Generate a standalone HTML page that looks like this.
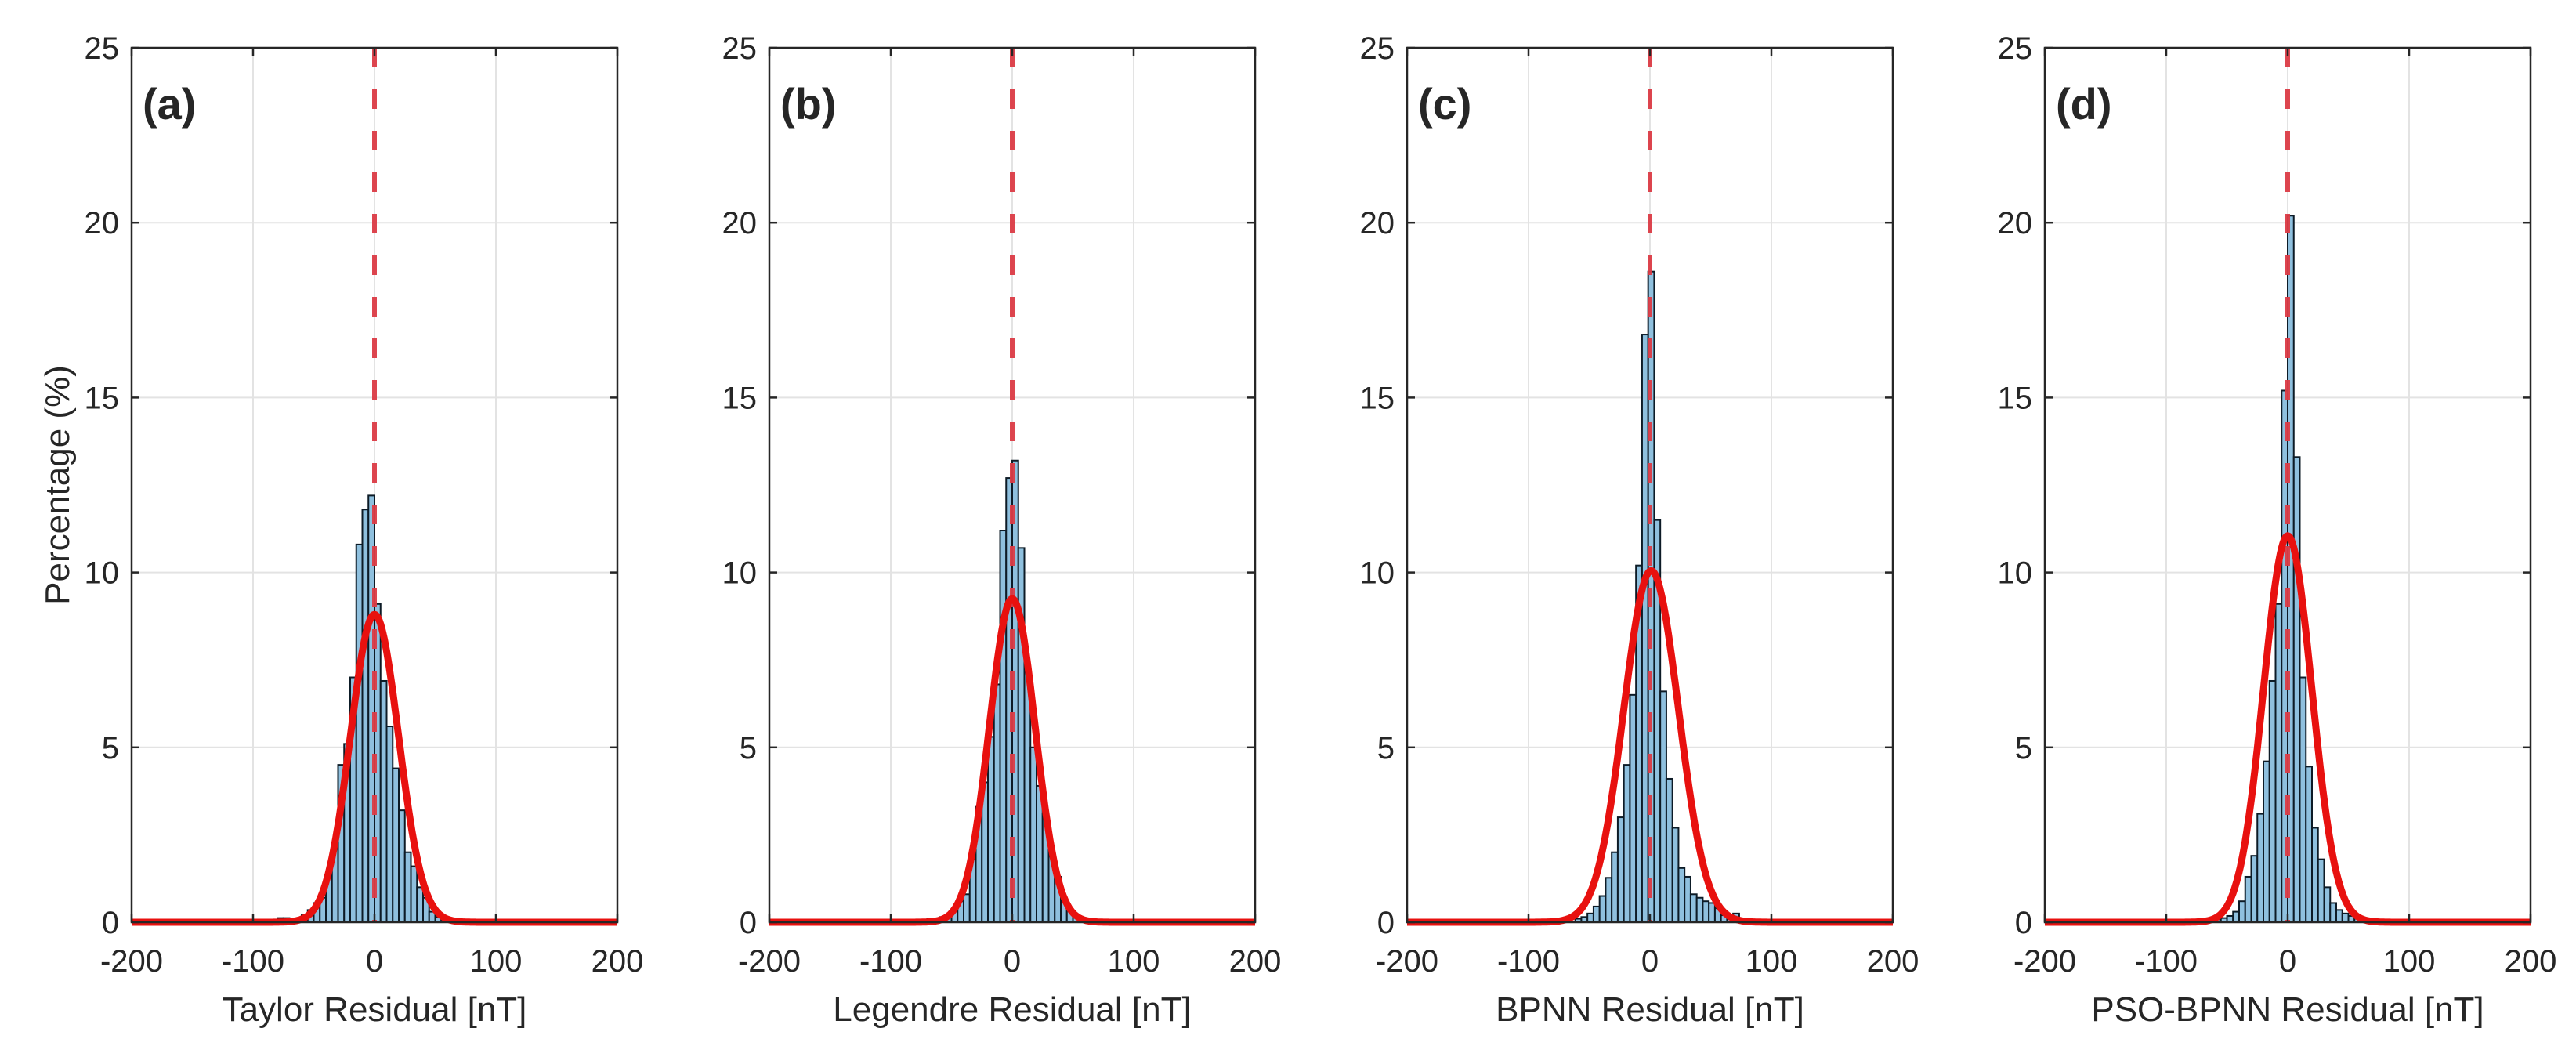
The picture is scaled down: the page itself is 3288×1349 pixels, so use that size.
<!DOCTYPE html>
<html><head><meta charset="utf-8">
<style>
html,body{margin:0;padding:0;background:#fff;}
svg{display:block;}
text{font-family:"Liberation Sans",Arial,sans-serif;fill:#262626;}
</style></head>
<body>
<svg id="fig" width="3288" height="1349" viewBox="0 0 3288 1349" xmlns="http://www.w3.org/2000/svg"></svg>
<script>
// ---- data ----
const panelLabels = ["(a)", "(b)", "(c)", "(d)"];
const xAxisTitles = ["Taylor Residual [nT]", "Legendre Residual [nT]", "BPNN Residual [nT]", "PSO-BPNN Residual [nT]"];
const xTicks = [-200, -100, 0, 100, 200];
const yTicks = [0, 5, 10, 15, 20, 25];
const binWidth = 5;
// bin left edges (nT) for each panel's bars
const binStartA = -80;
const valuesA = [0.12,0.12,0.1,0.1,0.2,0.35,0.55,0.7,1.3,2.2,4.5,5.1,7.0,10.8,11.8,12.2,9.1,6.9,5.6,4.4,3.2,2.0,1.6,1.0,0.7,0.3,0.15,0.05];
const binStartB = -80;
const valuesB = [0.05,0.05,0.1,0.1,0.15,0.2,0.35,0.6,0.8,1.8,3.3,4.0,5.3,6.8,11.2,12.7,13.2,10.7,7.2,5.0,3.9,3.1,1.9,1.3,0.7,0.35,0.2,0.1,0.05];
const binStartC = -61.5;
const valuesC = [0.1,0.15,0.25,0.45,0.75,1.27,2.0,3.0,4.5,6.5,10.2,16.8,18.6,11.5,6.6,4.1,2.7,1.55,1.3,0.8,0.7,0.6,0.55,0.4,0.2,0.2,0.25,0.05];
const binStartD = -60;
const valuesD = [0.08,0.12,0.18,0.3,0.6,1.3,1.9,3.1,4.6,6.9,9.1,15.2,20.2,13.3,7.0,4.45,2.7,1.8,1.0,0.55,0.35,0.25,0.18,0.1,0.08];
// Gaussian fits: mean, sigma (nT), peak (%)
const fitMean = [0, 0, 1, 0];
const fitSigma = [19.8, 18.8, 22.5, 19.8];
const fitPeak = [8.8, 9.25, 10.05, 11.05];

const binStarts = [binStartA, binStartB, binStartC, binStartD];
const binValues = [valuesA, valuesB, valuesC, valuesD];

// ---- layout ----
const NS = "http://www.w3.org/2000/svg";
const svg = document.getElementById("fig");
const plotTop = 61, plotBottom = 1177, plotW = 620, step = 814, firstLeft = 168;
const xMin = -200, xMax = 200, yMin = 0, yMax = 25;

function mk(tag, attrs, parent) {
  const e = document.createElementNS(NS, tag);
  for (const k in attrs) e.setAttribute(k, attrs[k]);
  (parent || svg).appendChild(e);
  return e;
}

for (let p = 0; p < 4; p++) {
  const left = firstLeft + step * p;
  const xs = v => left + (v - xMin) / (xMax - xMin) * plotW;
  const ys = v => plotBottom - (v - yMin) / (yMax - yMin) * (plotBottom - plotTop);

  const g = mk("g", {});
  
  

  // gridlines
  const grid = mk("g", {}, g);
  
  
  xTicks.forEach(t => {
    mk("line", {x1: xs(t), x2: xs(t), y1: plotTop, y2: plotBottom, stroke: "#e3e3e3", "stroke-width": 2}, grid);
  });
  yTicks.forEach(t => {
    mk("line", {x1: left, x2: left + plotW, y1: ys(t), y2: ys(t), stroke: "#e3e3e3", "stroke-width": 2}, grid);
  });

  // bars
  const bars = mk("g", {}, g);
  
  
  binValues[p].forEach((v, i) => {
    const x0 = binStarts[p] + i * binWidth;
    const r = mk("rect", {x: xs(x0), y: ys(v), width: xs(x0 + binWidth) - xs(x0), height: ys(0) - ys(v),
      fill: "#8fc0de", stroke: "#0d1b26", "stroke-width": 2}, bars);
    
    
  });

  // dashed zero line
  const dz = mk("line", {x1: xs(0), x2: xs(0), y1: plotTop, y2: plotBottom, stroke: "#dc3c46", "stroke-width": 6,
    "stroke-dasharray": "25 28", opacity: 0.95}, g);
  
  

  // gaussian fit curve
  let d = "";
  for (let xv = xMin; xv <= xMax; xv += 1) {
    const yv = fitPeak[p] * Math.exp(-Math.pow(xv - fitMean[p], 2) / (2 * fitSigma[p] * fitSigma[p]));
    d += (xv === xMin ? "M" : "L") + xs(xv).toFixed(1) + " " + ys(yv).toFixed(1);
  }
  const curve = mk("path", {d: d, fill: "none", stroke: "#e8110f", "stroke-width": 9, "stroke-linejoin": "round"}, g);
  
  

  // axes box
  const box = mk("rect", {x: left, y: plotTop, width: plotW, height: plotBottom - plotTop, fill: "none", stroke: "#262626", "stroke-width": 2.5}, g);
  
  

  // ticks and labels
  const xt = mk("g", {}, g);
  
  
  xTicks.forEach(t => {
    mk("line", {x1: xs(t), x2: xs(t), y1: plotBottom, y2: plotBottom - 10, stroke: "#262626", "stroke-width": 2.5}, xt);
    mk("line", {x1: xs(t), x2: xs(t), y1: plotTop, y2: plotTop + 10, stroke: "#262626", "stroke-width": 2.5}, xt);
    const tx = mk("text", {x: xs(t), y: 1240, "font-size": 40, "text-anchor": "middle"}, xt);
    tx.textContent = String(t);
    
    
  });
  const yt = mk("g", {}, g);
  
  
  yTicks.forEach(t => {
    mk("line", {x1: left, x2: left + 10, y1: ys(t), y2: ys(t), stroke: "#262626", "stroke-width": 2.5}, yt);
    mk("line", {x1: left + plotW, x2: left + plotW - 10, y1: ys(t), y2: ys(t), stroke: "#262626", "stroke-width": 2.5}, yt);
    const ty = mk("text", {x: left - 16, y: ys(t) + 14, "font-size": 40, "text-anchor": "end"}, yt);
    ty.textContent = String(t);
    
    
  });

  // x axis title
  const xl = mk("text", {x: left + plotW / 2, y: 1303, "font-size": 44, "text-anchor": "middle"}, g);
  xl.textContent = xAxisTitles[p];
  
  

  // panel label
  const pl = mk("text", {x: left + 14, y: 152, "font-size": 56, "font-weight": "bold", fill: "#000"}, g);
  pl.textContent = panelLabels[p];
  
  

  if (p === 0) {
    const yl = mk("text", {x: 0, y: 0, "font-size": 44, "text-anchor": "middle",
      transform: "translate(88," + ((plotTop + plotBottom) / 2) + ") rotate(-90)"}, g);
    yl.textContent = "Percentage (%)";
    
    
  }
}
</script>
</body></html>
